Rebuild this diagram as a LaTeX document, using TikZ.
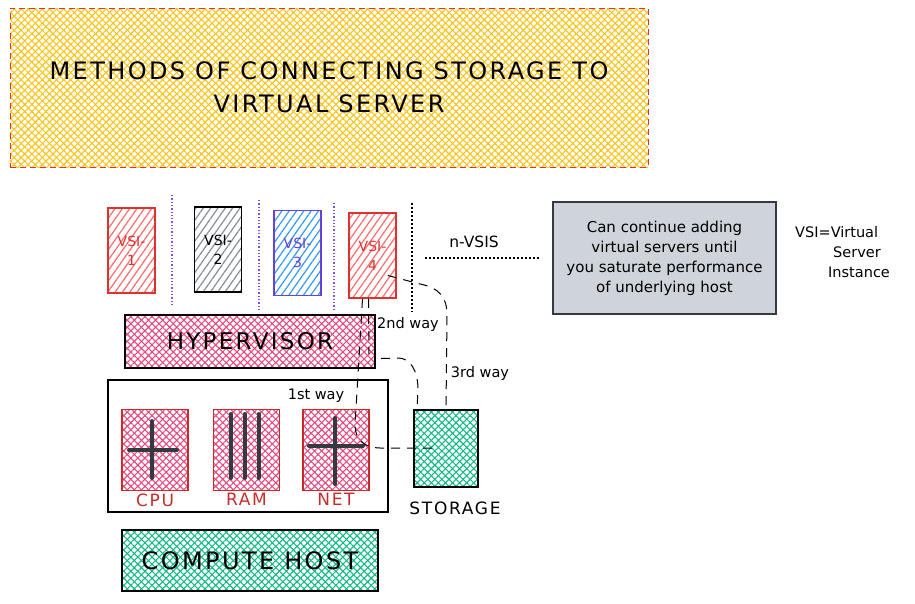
\documentclass[tikz,border=0pt]{standalone}
\usepackage{fontspec}
\setmainfont{DejaVu Sans}
\newfontfamily\widefont[LetterSpace=10]{DejaVu Sans}
\usetikzlibrary{arrows.meta, positioning, patterns.meta, calc}

\definecolor{hatchyellow}{HTML}{FCC419}
\definecolor{titlered}{HTML}{E03131}
\definecolor{vsired}{HTML}{E03131}
\definecolor{vsipink}{HTML}{FF6B6B}
\definecolor{vsigray}{HTML}{868E96}
\definecolor{vsipurple}{HTML}{6741D9}
\definecolor{vsiblue}{HTML}{339AF0}
\definecolor{partpink}{HTML}{E64980}
\definecolor{partred}{HTML}{C92A2A}
\definecolor{hostgreen}{HTML}{12B886}
\definecolor{notegray}{HTML}{CED4DA}
\definecolor{inkdark}{HTML}{343A40}
\definecolor{sepviolet}{HTML}{7950F2}

\tikzset{
    hatched/.style={pattern={Lines[angle=55,distance=6pt,line width=1.2pt]}, pattern color=#1},
    crossed/.style={
        preaction={pattern={Lines[angle=45,distance=5pt,line width=1.1pt]}, pattern color=#1},
        pattern={Lines[angle=-45,distance=5pt,line width=1.1pt]}, pattern color=#1},
}

\begin{document}
\begin{tikzpicture}[x=1pt, y=-1pt,
        titlebox/.style={draw=titlered, dashed, dash pattern=on 6pt off 4pt, line width=1pt, crossed=hatchyellow, minimum width=638pt, minimum height=159pt, align=center, font=\widefont\fontsize{24}{33}\selectfont},
        vsi/.style={line width=1.6pt, minimum width=47pt, minimum height=85pt, align=center, font=\fontsize{14}{19}\selectfont},
        part/.style={draw=partred, line width=1.6pt, crossed=partpink, minimum width=66pt, minimum height=81pt},
        partlabel/.style={text=partred, font=\widefont\fontsize{17}{18}\selectfont, inner sep=1pt},
        bigbox/.style={draw=black, line width=2pt, align=center, font=\widefont\fontsize{23}{24}\selectfont},
        bar/.style={line width=4pt, draw=inkdark, line cap=round},
        sep/.style={draw=sepviolet, dotted, line width=1.3pt},
        way/.style={draw=black, dashed, dash pattern=on 9pt off 7pt, line width=1pt},
        waylabel/.style={font=\fontsize{14.5}{16}\selectfont, inner sep=1pt}
    ]
    \useasboundingbox (0,0) rectangle (915,603);

    % Title
    \node[titlebox] (title) at (329,87.5) {METHODS OF CONNECTING STORAGE TO\\VIRTUAL SERVER};

    % Virtual servers
    \node[vsi, draw=vsired, hatched=vsipink, text=vsired] (vsi1) at (131.5,250.5) {VSI-\\1};
    \node[vsi, draw=black, hatched=vsigray] (vsi2) at (218,249.5) {VSI-\\2};
    \node[vsi, draw=vsipurple, hatched=vsiblue, text=vsipurple] (vsi3) at (297.5,253) {VSI-\\3};
    \node[vsi, draw=vsired, hatched=vsipink, text=vsired] (vsi4) at (372.5,255.5) {VSI-\\4};

    % Separators
    \draw[sep] (172,195) -- (172,305);
    \draw[sep] (259,200) -- (259,310);
    \draw[sep] (334,203) -- (334,310);
    \draw[black, dotted, line width=2pt] (412,203) -- (412,312);
    \draw[black, dotted, line width=2pt] (425,258) -- (540,258);
    \node[waylabel, font=\fontsize{15.5}{17}\selectfont] (nvsis) at (474,242) {n-VSIS};

    % Note
    \node[draw=inkdark, line width=1.6pt, fill=notegray, minimum width=223pt, minimum height=112pt, align=center, font=\fontsize{15}{20}\selectfont] (note) at (664.5,258) {Can continue adding\\virtual servers until\\you saturate performance\\of underlying host};
    \node[align=left, font=\fontsize{14.5}{20}\selectfont, anchor=north west, inner sep=0pt] (legend) at (795,226) {VSI=Virtual\\\hspace{38pt}Server\\\hspace{33pt}Instance};

    % Hypervisor and host
    \node[bigbox, crossed=partpink, minimum width=250pt, minimum height=53pt] (hyper) at (250,341.5) {HYPERVISOR};
    \node[draw=black, line width=2pt, minimum width=280pt, minimum height=132pt] (compute) at (248,446) {};
    \node[part] (cpu) at (155,450) {};
    \node[part] (ram) at (246.5,450) {};
    \node[part] (net) at (336,450) {};
    \node[partlabel, below=1pt of cpu] (cpulabel) {CPU};
    \node[partlabel, below=1pt of ram] (ramlabel) {RAM};
    \node[partlabel, below=1pt of net] (netlabel) {NET};
    \node[bigbox, crossed=hostgreen, minimum width=64pt, minimum height=77pt] (storage) at (446,448) {};
    \node[font=\widefont\fontsize{17}{18}\selectfont, below=11pt of storage, xshift=9pt] (storagelabel) {STORAGE};
    \node[bigbox, crossed=hostgreen, minimum width=256pt, minimum height=61pt, font=\widefont\fontsize{24}{26}\selectfont] (host) at (250,560.5) {COMPUTE HOST};

    % Icons
    \draw[bar] ($(cpu.center)+(-26,0)$) -- ($(cpu.center)+(22,0)$);
    \draw[bar] ($(cpu.center)+(-3,-29)$) -- ($(cpu.center)+(-3,28)$);
    \foreach \dx in {-16,-2,12}
        \draw[bar] ($(ram.center)+(\dx,-36)$) -- ($(ram.center)+(\dx,28)$);
    \draw[bar] ($(net.center)+(-27,-4)$) -- ($(net.center)+(27,-4)$);
    \draw[bar] ($(net.center)+(-1,-32)$) -- ($(net.center)+(-1,34)$);

    % Ways
    \draw[way] ($(vsi4.south)+(-10,0)$) -- (355,425) .. controls (355,440) and (365,448) .. (380,448) -- ($(storage.west)+(20,0)$);
    \draw[way] ($(vsi4.south)+(-4,0)$) -- ($(hyper.north east)+(-7,40)$);
    \draw[way] ($(hyper.east)+(5,17)$) -- (398,358) .. controls (410,358) and (418,370) .. (418,390) -- ($(storage.north west)+(4,0)$);
    \draw[way] ($(vsi4.east)+(-9,20)$) -- (420,284) .. controls (440,288) and (447,298) .. (447,315) -- (storage.north);
    \node[waylabel] (way1) at (316,396) {1st way};
    \node[waylabel] (way2) at (408,324) {2nd way};
    \node[waylabel] (way3) at (480,373) {3rd way};
\end{tikzpicture}
\end{document}
